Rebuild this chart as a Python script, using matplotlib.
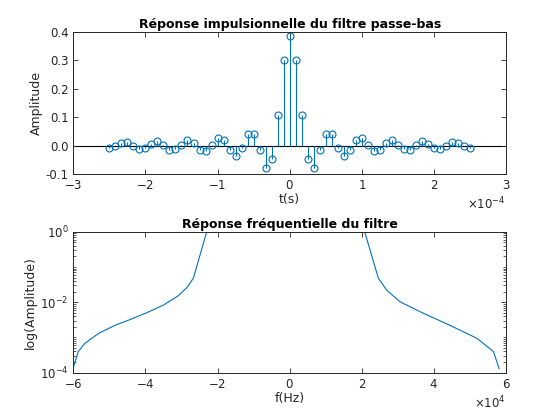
import matplotlib
matplotlib.use("Agg")
import matplotlib.pyplot as plt
from matplotlib.ticker import LogLocator, NullFormatter
import numpy as np

# impulse response, samples n = -30..30
n_samples = np.arange(-30, 31)
t_step = 2.5e-4 / 30
h = [-0.009, -0.002, 0.009, 0.012, 0.000, -0.012, -0.008, 0.007, 0.015, 0.002,
     -0.014, -0.012, 0.003, 0.021, 0.009, -0.014, -0.020, 0.001, 0.027, 0.019,
     -0.014, -0.035, -0.007, 0.039, 0.042, -0.016, -0.078, -0.047, 0.106, 0.299,
     0.386,
     0.299, 0.106, -0.047, -0.078, -0.016, 0.042, 0.039, -0.007, -0.035, -0.014,
     0.019, 0.027, 0.001, -0.020, -0.014, 0.009, 0.021, 0.003, -0.012, -0.014,
     0.002, 0.015, 0.007, -0.008, -0.012, 0.000, 0.012, 0.009, -0.002, -0.009]

# frequency response (Hz, magnitude)
freq = [-60000, -58600, -56800, -53000, -48500, -44000, -39500, -35000, -31000,
        -28500, -26700, -23000,
        -21000, -19000, -17000, -15000, -13000, -11000, -9000, -7000, -5000,
        -3000, -1000, 1000, 3000, 5000, 7000, 9000, 11000, 13000, 15000, 17000,
        19000,
        20800, 24600, 26900, 30600, 37000, 44500, 51900, 56500, 58100]
mag = [1.4e-4, 4.0e-4, 6.8e-4, 1.3e-3, 2.2e-3, 3.3e-3, 5.1e-3, 8.3e-3, 1.5e-2,
       2.6e-2, 4.8e-2, 1.0,
       0.97, 1.03, 0.97, 1.03, 0.97, 1.03, 0.97, 1.03, 0.97,
       1.03, 0.97, 1.03, 0.97, 1.03, 0.97, 1.03, 0.97, 1.03, 0.97, 1.03,
       0.97,
       1.0, 4.8e-2, 2.2e-2, 1.03e-2, 4.9e-3, 2.2e-3, 9.5e-4, 4.0e-4, 1.3e-4]

blue = "#0072BD"
grey = "#262626"

plt.rcParams["font.family"] = "DejaVu Sans"
plt.rcParams["axes.unicode_minus"] = False
plt.rcParams["font.size"] = 8.5
plt.rcParams["axes.edgecolor"] = grey
plt.rcParams["xtick.color"] = grey
plt.rcParams["ytick.color"] = grey
plt.rcParams["axes.labelcolor"] = grey
plt.rcParams["axes.linewidth"] = 0.7

fig = plt.figure(figsize=(5.6, 4.2), dpi=100)
ax1 = fig.add_axes([0.1309, 0.5857, 0.7727, 0.3388])
ax2 = fig.add_axes([0.1309, 0.1126, 0.7727, 0.3357])

for ax in (ax1, ax2):
    ax.tick_params(direction="in", top=True, right=True, length=3.5, width=0.6,
                   labelsize=8.5)
    ax.tick_params(which="minor", direction="in", right=True, length=2, width=0.5)

# top: stem plot
t = n_samples * t_step
ax1.axhline(0, color="black", lw=0.8, zorder=1)
ml, sl, bl = ax1.stem(t, h, basefmt=" ")
plt.setp(sl, color=blue, lw=0.8)
plt.setp(ml, color=blue, markerfacecolor="none", markersize=5, markeredgewidth=0.8)
ax1.set_xlim(-3e-4, 3e-4)
ax1.set_ylim(-0.1, 0.4)
ax1.set_xticks(np.arange(-3e-4, 3.1e-4, 1e-4))
ax1.set_yticks([-0.1, 0, 0.1, 0.2, 0.3, 0.4])
ax1.ticklabel_format(axis="x", style="sci", scilimits=(0, 0), useMathText=True)
ax1.set_title("Réponse impulsionnelle du filtre passe-bas", fontsize=9,
              fontweight="bold", color="black", pad=3)
ax1.set_xlabel("t(s)", fontsize=9, labelpad=1)
ax1.set_ylabel("Amplitude", fontsize=9, labelpad=2)

# bottom: frequency response (log scale)
ax2.plot(freq, mag, color=blue, lw=0.8)
ax2.set_yscale("log")
ax2.set_xlim(-6e4, 6e4)
ax2.set_ylim(1e-4, 1)
ax2.set_xticks(np.arange(-6e4, 6.1e4, 2e4))
ax2.set_yticks([1e-4, 1e-2, 1])
ax2.yaxis.set_minor_locator(LogLocator(base=10, subs=np.arange(1, 10), numticks=20))
ax2.yaxis.set_minor_formatter(NullFormatter())
ax2.ticklabel_format(axis="x", style="sci", scilimits=(0, 0), useMathText=True)
ax2.set_title("Réponse fréquentielle du filtre", fontsize=9,
              fontweight="bold", color="black", pad=3)
ax2.set_xlabel("f(Hz)", fontsize=9, labelpad=1)
ax2.set_ylabel("log(Amplitude)", fontsize=9, labelpad=2)

fig.savefig("out.png", dpi=100)
